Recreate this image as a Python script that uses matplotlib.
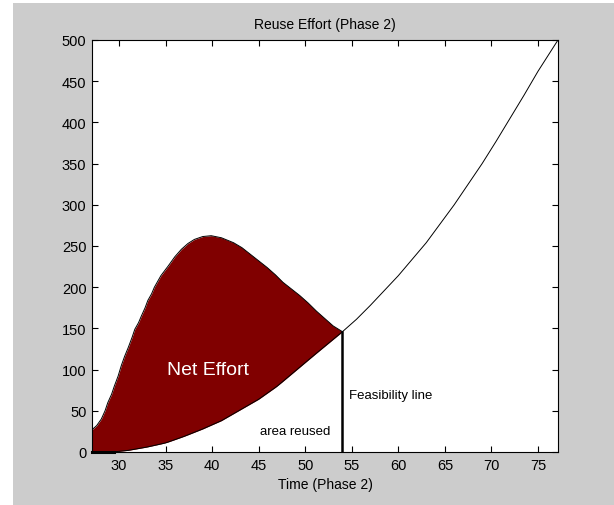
import matplotlib
matplotlib.use("Agg")
import matplotlib.pyplot as plt
from matplotlib.patches import Rectangle
import numpy as np

plt.rcParams["font.family"] = ["Liberation Sans", "DejaVu Sans"]

# lower curve (reused area boundary)
lower_x = [27.1, 29.3, 31, 33, 35, 37, 39, 41, 43, 45, 47, 49, 51, 52.5, 54,
           55.5, 57, 58.5, 60, 61.5, 63, 64.5, 66, 67.5, 69, 70.5, 72, 73.5,
           75, 77.15]
lower_y = [0, 0, 2, 6, 11, 19, 28, 38, 51, 64, 80, 99, 118, 132, 146,
           161, 178, 196, 214, 234, 254, 277, 300, 325, 350, 377, 405, 433,
           462, 500]

# upper curve (total effort)
upper_x = [27.1, 27.6, 28.1, 28.5, 28.8, 29.2, 29.5, 29.9, 30.25, 30.6, 31.0,
           31.4, 31.7, 32.1, 32.4, 32.8, 33.1, 33.5, 33.8, 34.5, 35.3, 36.0,
           36.7, 37.4, 38.1, 39.0, 39.9, 41.0, 42.3, 43.2, 44.1, 45.0, 45.9,
           46.8, 47.6, 48.5, 49.4, 50.3, 51.2, 52.1, 53.0, 54.0]
upper_y = [27, 32, 40, 50, 60, 70, 80, 92, 105, 116, 127,
           139, 149, 157, 165, 175, 184, 192, 200, 214, 226, 237,
           246, 253, 258, 261.5, 262.5, 260, 254, 248, 240, 232, 224,
           215, 206, 198, 190, 181, 171, 162, 153, 146]

feasibility_x = 54.0
feasibility_y = 146

fig = plt.figure(figsize=(6.14, 5.06), dpi=100, facecolor="white")
fig.patches.append(Rectangle((13 / 614, 0), 1 - 13 / 614, (506 - 4) / 506,
                             transform=fig.transFigure, facecolor="#cccccc",
                             edgecolor="none", zorder=-10))

ax = fig.add_axes([92 / 614, 53 / 506, 466 / 614, 412 / 506])
ax.set_facecolor("white")

# fill between curves up to the feasibility line
xs = np.array(upper_x)
lo = np.interp(xs, lower_x, lower_y)
ax.fill_between(xs, lo, upper_y, color="#800000", linewidth=0, zorder=2)
ax.plot(upper_x, upper_y, color="black", linewidth=0.7, zorder=3)
ax.plot(lower_x, lower_y, color="black", linewidth=0.7, zorder=3)
ax.plot([27.1, 29.5], [0, 0], color="black", linewidth=2.2, zorder=3,
        clip_on=False)
ax.plot([feasibility_x, feasibility_x], [0, feasibility_y], color="black",
        linewidth=1.8, zorder=4)

ax.text(39.6, 100, "Net Effort", color="white", fontsize=14,
        ha="center", va="center", zorder=5)
ax.text(45.1, 26, "area reused", color="black", fontsize=9.5,
        ha="left", va="center", zorder=5)
ax.text(54.65, 69, "Feasibility line", color="black", fontsize=9.5,
        ha="left", va="center", zorder=5)

ax.set_xlim(27.1, 77.15)
ax.set_ylim(0, 500)
ax.set_xticks(np.arange(30, 80, 5))
ax.set_yticks(np.arange(0, 550, 50))
ax.tick_params(direction="in", top=True, right=True, length=4, width=0.8,
               labelsize=10.5, pad=4)
for s in ax.spines.values():
    s.set_linewidth(0.8)

ax.set_title("Reuse Effort (Phase 2)", fontsize=10, pad=9)
ax.set_xlabel("Time (Phase 2)", fontsize=10, labelpad=4)

fig.savefig("out.png", dpi=100, facecolor=fig.get_facecolor())
